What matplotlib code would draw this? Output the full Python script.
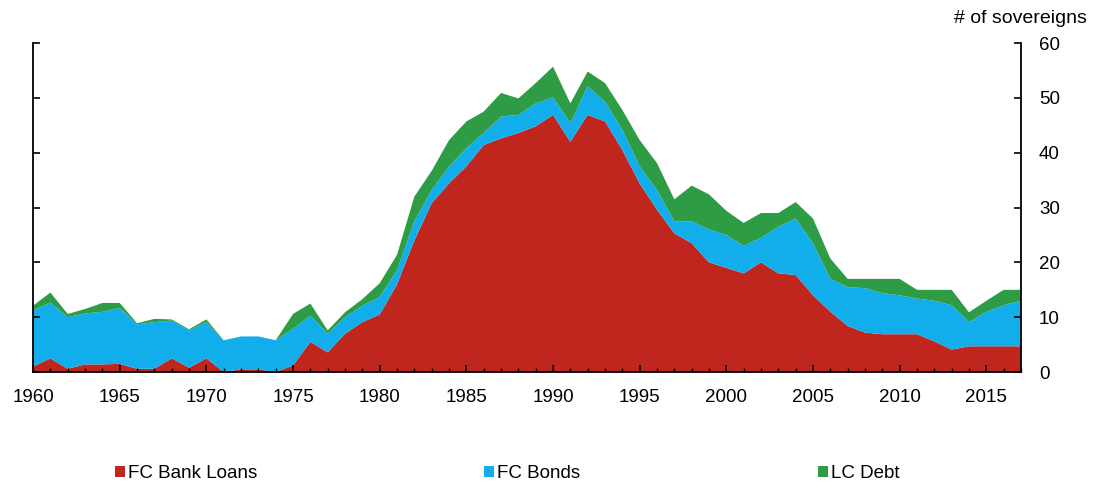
import matplotlib
matplotlib.use("Agg")
import matplotlib.pyplot as plt
from matplotlib.patches import Patch
from matplotlib.ticker import MultipleLocator

plt.rcParams['font.family'] = ['Liberation Sans', 'DejaVu Sans']

years = list(range(1960, 2018))

fc_bank_loans = [1.0, 2.5, 0.6, 1.4, 1.4, 1.5, 0.6, 0.6, 2.5, 0.8,
                 2.5, 0.0, 0.5, 0.5, 0.0, 1.2, 5.5, 3.6, 7.0, 9.1,
                 10.5, 16.0, 24.0, 30.8, 34.4, 37.5, 41.4, 42.6, 43.6, 44.8,
                 46.9, 42.0, 46.9, 45.7, 40.5, 34.4, 29.6, 25.3, 23.5, 20.0,
                 19.0, 18.0, 20.0, 18.0, 17.7, 14.0, 11.0, 8.4, 7.2, 6.9,
                 6.9, 6.9, 5.6, 4.1, 4.7, 4.7, 4.7, 4.7]

fc_bonds = [10.2, 10.2, 9.4, 9.3, 9.6, 10.2, 8.1, 8.5, 6.9, 6.8,
            6.6, 5.8, 6.0, 6.0, 5.8, 6.7, 4.8, 3.4, 3.0, 3.0,
            3.2, 2.6, 3.5, 2.4, 3.1, 3.3, 2.2, 4.0, 3.3, 4.2,
            3.2, 3.4, 5.2, 3.6, 3.7, 3.1, 3.6, 2.2, 4.0, 6.0,
            6.0, 5.0, 4.5, 8.5, 10.3, 9.5, 6.0, 7.1, 8.1, 7.5,
            7.1, 6.5, 7.4, 8.1, 4.4, 6.3, 7.5, 8.3]

lc_debt = [0.9, 1.8, 0.6, 0.8, 1.6, 0.9, 0.2, 0.6, 0.2, 0.2,
           0.5, 0.0, 0.0, 0.0, 0.0, 2.7, 2.2, 0.6, 0.9, 1.2,
           2.5, 2.8, 4.5, 3.5, 4.8, 4.9, 3.9, 4.3, 3.0, 3.7,
           5.6, 3.6, 2.7, 3.4, 3.6, 4.8, 4.9, 4.0, 6.5, 6.4,
           4.4, 4.2, 4.5, 2.5, 3.0, 4.5, 3.7, 1.5, 1.7, 2.6,
           3.0, 1.6, 2.0, 2.8, 1.8, 2.0, 2.8, 2.0]

series_labels = ["FC Bank Loans", "FC Bonds", "LC Debt"]
colors = ["#C0261D", "#12AEEB", "#2E9B45"]

fig = plt.figure(figsize=(11.02, 4.87), dpi=100)
ax = fig.add_axes([0.030, 0.236, 0.8965, 0.6756])

ax.stackplot(years, fc_bank_loans, fc_bonds, lc_debt, colors=colors,
             linewidth=0, labels=series_labels)

ax.set_xlim(1960, 2017)
ax.set_ylim(0, 60)
ax.xaxis.set_major_locator(MultipleLocator(5))
ax.xaxis.set_minor_locator(MultipleLocator(1))
ax.yaxis.set_major_locator(MultipleLocator(10))

ax.spines['top'].set_visible(False)
for s in ['left', 'right', 'bottom']:
    ax.spines[s].set_linewidth(1.3)
    ax.spines[s].set_color('black')

ax.yaxis.set_ticks_position('both')
ax.tick_params(axis='y', which='major', direction='in', length=5, width=1.2,
               labelleft=False, labelright=True, labelsize=13.5, pad=13)
ax.tick_params(axis='x', which='major', direction='in', length=5, width=1.2,
               labelsize=13.5, pad=12)
ax.tick_params(axis='x', which='minor', direction='in', length=3, width=1.0)

fig.text(0.986, 0.962, "# of sovereigns", ha='right', va='center', fontsize=14)

positions = [0.104, 0.439, 0.742]
for lab, col, xpos in zip(series_labels, colors, positions):
    leg = fig.legend(handles=[Patch(facecolor=col, edgecolor='none', label=lab)],
                     loc='center left', bbox_to_anchor=(xpos, 0.027),
                     frameon=False, fontsize=13.5, handlelength=0.55,
                     handleheight=0.55, handletextpad=0.15, borderaxespad=0,
                     borderpad=0)

fig.savefig("out.png", dpi=100, facecolor='white')
